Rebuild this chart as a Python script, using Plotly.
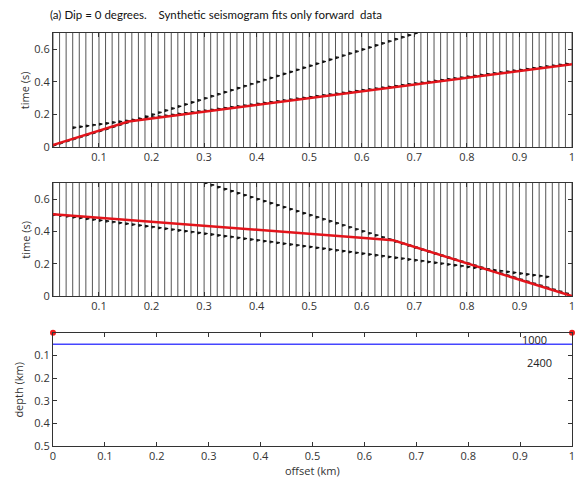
import numpy as np
import plotly.graph_objects as go

# ---------------- data ----------------
n_traces = 80
trace_spacing = 0.0125
trace_offsets = [trace_spacing * (i + 1) for i in range(n_traces)]

# forward shot (top panel) arrival events: endpoints (offset km, time s)
fwd_direct_x = [0.0125, 0.70]
fwd_direct_t = [0.0125, 0.70]
fwd_head_x = [0.045, 1.00]
fwd_head_t = [0.118, 0.516]

# reverse shot (middle panel) arrival events
rev_direct_x = [0.30, 1.00]
rev_direct_t = [0.70, 0.004]
rev_head_x = [0.0125, 0.955]
rev_head_t = [0.505, 0.118]

# red fitted curves
fit_fwd_x = [0.0, 0.156, 1.0]
fit_fwd_t = [0.0, 0.156, 0.508]
fit_rev_x = [0.0, 0.66, 1.0]
fit_rev_t = [0.51, 0.345, 0.0]

# wavelet lobe shape (relative time s, relative amplitude)
wavelet_dt = [-0.007, 0.0, 0.004]
wavelet_amp = [0.0, 1.0, 0.0]
wavelet_scale = 0.0065  # km of deflection

# model panel
interface_x = [0.0, 1.0]
interface_depth = [0.05, 0.05]
velocities = ["1000", "2400"]
velocity_label_x = [0.90, 0.91]
velocity_label_depth = [0.028, 0.133]
station_x = [0.0, 1.0]
station_depth = [0.0, 0.0]

T_MAX = 0.7


def build_traces():
    xs, ys = [], []
    for xo in trace_offsets:
        xs += [xo, xo, None]
        ys += [0.0, T_MAX, None]
    return xs, ys


def build_lobes(events):
    xs, ys = [], []
    for xo in trace_offsets:
        for ex, et in events:
            if ex[0] - 1e-9 <= xo <= ex[1] + 1e-9:
                t0 = float(np.interp(xo, ex, et))
                if 0 <= t0 <= T_MAX:
                    for dt, a in zip(wavelet_dt, wavelet_amp):
                        xs.append(xo + a * wavelet_scale)
                        ys.append(min(max(t0 + dt, 0.0), T_MAX))
                    xs.append(None)
                    ys.append(None)
    return xs, ys


fig = go.Figure()
tx, ty = build_traces()

panels = [
    ("x", "y", [(fwd_direct_x, fwd_direct_t), (fwd_head_x, fwd_head_t)], fit_fwd_x, fit_fwd_t),
    ("x2", "y2", [(rev_direct_x, rev_direct_t), (rev_head_x, rev_head_t)], fit_rev_x, fit_rev_t),
]
for xa, ya, events, fx, ft in panels:
    fig.add_trace(go.Scatter(x=tx, y=ty, mode="lines", line=dict(color="#555", width=1),
                             xaxis=xa, yaxis=ya, hoverinfo="skip", showlegend=False))
    lx, ly = build_lobes(events)
    fig.add_trace(go.Scatter(x=lx, y=ly, mode="lines", fill="toself", fillcolor="#111",
                             line=dict(color="#111", width=1.2),
                             xaxis=xa, yaxis=ya, hoverinfo="skip", showlegend=False))
    fig.add_trace(go.Scatter(x=fx, y=ft, mode="lines",
                             line=dict(color="#e3141b", width=2.5),
                             xaxis=xa, yaxis=ya, showlegend=False))

# bottom panel
fig.add_trace(go.Scatter(x=interface_x, y=interface_depth, mode="lines",
                         line=dict(color="#4646ff", width=1.5),
                         xaxis="x3", yaxis="y3", showlegend=False))
fig.add_trace(go.Scatter(x=station_x, y=station_depth, mode="markers",
                         marker=dict(color="#ee1c1c", size=6, symbol="circle"),
                         cliponaxis=False,
                         xaxis="x3", yaxis="y3", showlegend=False))
for txt, vx, vd in zip(velocities, velocity_label_x, velocity_label_depth):
    fig.add_annotation(x=vx, y=vd, xref="x3", yref="y3", text=txt, showarrow=False,
                       xanchor="left", yanchor="middle",
                       font=dict(size=11, color="#222", family="Open Sans"))

axis_style = dict(showline=True, linecolor="#333", linewidth=1, mirror="ticks",
                  ticks="inside", ticklen=4, tickcolor="#333", showgrid=False,
                  zeroline=False, tickfont=dict(size=11, color="#333", family="Open Sans"))

tick01 = [0.1 * i for i in range(1, 11)]
tick01_text = ["0.1", "0.2", "0.3", "0.4", "0.5", "0.6", "0.7", "0.8", "0.9", "1"]

fig.update_layout(
    width=580, height=481,
    margin=dict(l=53, r=5, t=33, b=35),
    paper_bgcolor="white", plot_bgcolor="white",
    xaxis=dict(domain=[0, 1], anchor="y", range=[0.0125, 1.0],
               tickvals=tick01, ticktext=tick01_text, **axis_style),
    yaxis=dict(domain=[0.724, 1.0], anchor="x", range=[0, 0.7],
               tickvals=[0, 0.2, 0.4, 0.6], ticktext=["0", "0.2", "0.4", "0.6"], **axis_style),
    xaxis2=dict(domain=[0, 1], anchor="y2", range=[0.0125, 1.0],
                tickvals=tick01, ticktext=tick01_text, **axis_style),
    yaxis2=dict(domain=[0.363, 0.637], anchor="x2", range=[0, 0.7],
                tickvals=[0, 0.2, 0.4, 0.6], ticktext=["0", "0.2", "0.4", "0.6"], **axis_style),
    xaxis3=dict(domain=[0, 1], anchor="y3", range=[0, 1.0],
                tickvals=[0] + tick01, ticktext=["0"] + tick01_text, **axis_style),
    yaxis3=dict(domain=[0, 0.274], anchor="x3", range=[0.5, 0],
                tickvals=[0.1, 0.2, 0.3, 0.4, 0.5],
                ticktext=["0.1", "0.2", "0.3", "0.4", "0.5"], **axis_style),
)

lab_font = dict(size=11, color="#333", family="Open Sans")
fig.add_annotation(x=(25 - 53) / 522, y=0.862, xref="paper", yref="paper",
                   text="time (s)", textangle=-90, showarrow=False,
                   xanchor="center", yanchor="middle", font=lab_font)
fig.add_annotation(x=(25 - 53) / 522, y=0.50, xref="paper", yref="paper",
                   text="time (s)", textangle=-90, showarrow=False,
                   xanchor="center", yanchor="middle", font=lab_font)
fig.add_annotation(x=(18 - 53) / 522, y=0.137, xref="paper", yref="paper",
                   text="depth (km)", textangle=-90, showarrow=False,
                   xanchor="center", yanchor="middle", font=lab_font)
fig.add_annotation(x=0.5, y=(446 - 470) / 413, xref="paper", yref="paper",
                   text="offset (km)", showarrow=False,
                   xanchor="center", yanchor="middle", font=lab_font)
fig.add_annotation(x=(48 - 53) / 522, y=(446 - 15) / 413, xref="paper", yref="paper",
                   text="(a) Dip = 0 degrees.\u00a0\u00a0\u00a0\u00a0Synthetic seismogram fits only forward\u00a0\u00a0data",
                   showarrow=False, xanchor="left", yanchor="middle",
                   font=dict(size=11.5, color="#111", family="Lato"))

fig.write_html("out.html")
